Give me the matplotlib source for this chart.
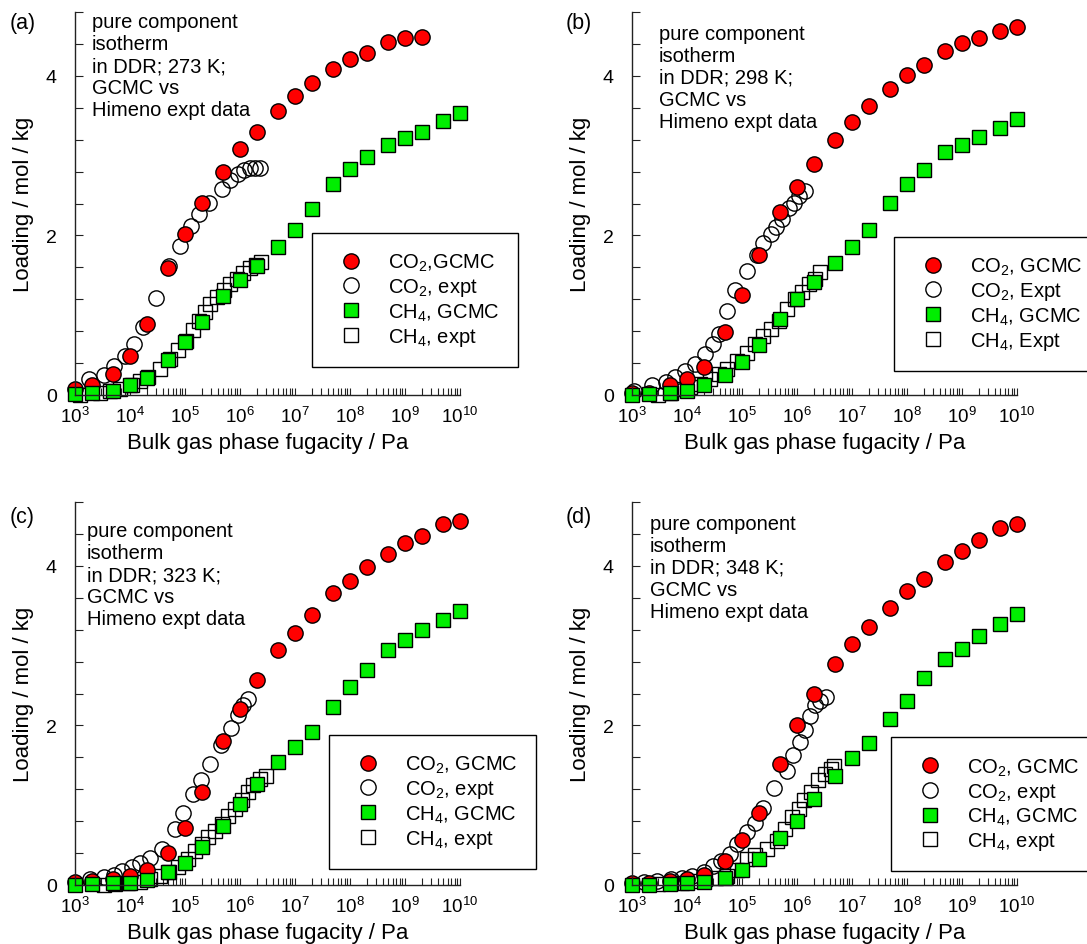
import numpy as np
import matplotlib
matplotlib.use("Agg")
import matplotlib.pyplot as plt
from matplotlib.ticker import MultipleLocator, FixedLocator, NullFormatter, LogFormatterSciNotation

plt.rcParams['font.family'] = ['Liberation Sans', 'DejaVu Sans']
plt.rcParams['mathtext.fontset'] = 'custom'
plt.rcParams['mathtext.rm'] = 'Liberation Sans'
plt.rcParams['mathtext.it'] = 'Liberation Sans:italic'
plt.rcParams['mathtext.default'] = 'regular'

# GCMC bulk fugacities / Pa
p_gcmc = [1e3, 2e3, 5e3, 1e4, 2e4, 5e4, 1e5, 2e5, 5e5, 1e6, 2e6,
          5e6, 1e7, 2e7, 5e7, 1e8, 2e8, 5e8, 1e9, 2e9, 5e9, 1e10]
p_gcmc_co2_a = [1e3, 2e3, 5e3, 1e4, 2e4, 5e4, 1e5, 2e5, 5e5, 1e6, 2e6,
                5e6, 1e7, 2e7, 5e7, 1e8, 2e8, 5e8, 1e9, 2e9]

# (a) 273 K
co2_gcmc_a = [0.08, 0.13, 0.26, 0.49, 0.89, 1.59, 2.02, 2.41, 2.80, 3.08, 3.30,
              3.56, 3.75, 3.91, 4.09, 4.21, 4.29, 4.43, 4.47, 4.49]
ch4_gcmc_a = [0.01, 0.02, 0.05, 0.12, 0.21, 0.44, 0.66, 0.91, 1.24, 1.44, 1.62,
              1.86, 2.07, 2.33, 2.64, 2.83, 2.98, 3.13, 3.22, 3.30, 3.43, 3.54]
co2_expt_logp_a = [3.26, 3.52, 3.70, 3.91, 4.07, 4.24, 4.48, 4.70, 4.91, 5.10,
                   5.26, 5.44, 5.67, 5.82, 5.97, 6.08, 6.18, 6.27, 6.36]
co2_expt_a = [0.20, 0.25, 0.36, 0.49, 0.64, 0.85, 1.22, 1.62, 1.87, 2.12,
              2.27, 2.41, 2.58, 2.69, 2.77, 2.82, 2.84, 2.84, 2.84]
ch4_expt_logp_a = [3.09, 3.45, 3.64, 3.82, 4.03, 4.18, 4.33, 4.55, 4.73, 4.88, 5.02, 5.15,
                   5.26, 5.36, 5.45, 5.58, 5.70, 5.82, 5.94, 6.06, 6.18, 6.29, 6.39]
ch4_expt_a = [0.00, 0.03, 0.05, 0.08, 0.13, 0.17, 0.22, 0.32, 0.45, 0.57, 0.68, 0.81,
              0.93, 1.04, 1.14, 1.23, 1.31, 1.39, 1.46, 1.53, 1.59, 1.63, 1.67]

# (b) 298 K
co2_gcmc_b = [0.03, 0.03, 0.12, 0.20, 0.35, 0.79, 1.25, 1.75, 2.29, 2.61, 2.89,
              3.20, 3.42, 3.62, 3.83, 4.01, 4.14, 4.31, 4.41, 4.47, 4.56, 4.61]
ch4_gcmc_b = [0.00, 0.01, 0.03, 0.05, 0.12, 0.25, 0.41, 0.63, 0.95, 1.20, 1.42,
              1.66, 1.85, 2.07, 2.41, 2.64, 2.82, 3.04, 3.13, 3.23, 3.35, 3.46]
co2_expt_logp_b = [3.03, 3.36, 3.61, 3.79, 3.97, 4.15, 4.33, 4.48, 4.58, 4.73, 4.88,
                   5.09, 5.27, 5.39, 5.52, 5.61, 5.73, 5.85, 5.94, 6.04, 6.15]
co2_expt_b = [0.05, 0.13, 0.16, 0.22, 0.30, 0.39, 0.51, 0.64, 0.76, 1.05, 1.31,
              1.56, 1.75, 1.91, 2.02, 2.10, 2.21, 2.34, 2.41, 2.50, 2.56]
ch4_expt_logp_b = [3.48, 3.70, 3.88, 4.06, 4.24, 4.42, 4.58, 4.73, 4.91, 5.09,
                   5.24, 5.39, 5.52, 5.67, 5.82, 5.97, 6.09, 6.21, 6.32, 6.42]
ch4_expt_b = [0.00, 0.03, 0.07, 0.10, 0.14, 0.20, 0.26, 0.33, 0.43, 0.53,
              0.64, 0.74, 0.83, 0.93, 1.08, 1.20, 1.29, 1.39, 1.46, 1.54]

# (c) 323 K
co2_gcmc_c = [0.04, 0.05, 0.07, 0.11, 0.19, 0.40, 0.72, 1.17, 1.81, 2.21, 2.57,
              2.94, 3.16, 3.38, 3.66, 3.81, 3.99, 4.15, 4.29, 4.38, 4.52, 4.56]
ch4_gcmc_c = [0.00, 0.01, 0.02, 0.03, 0.06, 0.16, 0.28, 0.47, 0.74, 1.01, 1.27,
              1.54, 1.73, 1.92, 2.23, 2.48, 2.70, 2.94, 3.07, 3.19, 3.32, 3.43]
co2_expt_logp_c = [3.27, 3.52, 3.71, 3.85, 4.03, 4.19, 4.36, 4.58, 4.82,
                   4.97, 5.15, 5.29, 5.45, 5.65, 5.83, 5.97, 6.06, 6.15]
co2_expt_c = [0.08, 0.10, 0.13, 0.18, 0.23, 0.28, 0.34, 0.45, 0.70,
              0.90, 1.14, 1.31, 1.52, 1.76, 1.97, 2.13, 2.25, 2.33]
ch4_expt_logp_c = [3.52, 3.73, 3.97, 4.18, 4.36, 4.55, 4.70, 4.88, 5.06, 5.18, 5.30,
                   5.42, 5.55, 5.67, 5.79, 5.91, 6.03, 6.15, 6.24, 6.36, 6.48]
ch4_expt_c = [0.00, 0.01, 0.03, 0.04, 0.07, 0.11, 0.16, 0.22, 0.32, 0.43, 0.51,
              0.60, 0.68, 0.76, 0.86, 0.95, 1.06, 1.16, 1.25, 1.33, 1.37]

# (d) 348 K
co2_gcmc_d = [0.02, 0.02, 0.05, 0.07, 0.13, 0.30, 0.57, 0.90, 1.52, 2.01, 2.40,
              2.77, 3.02, 3.23, 3.47, 3.69, 3.84, 4.05, 4.18, 4.32, 4.47, 4.53]
ch4_gcmc_d = [0.00, 0.00, 0.01, 0.02, 0.04, 0.09, 0.19, 0.32, 0.59, 0.80, 1.08,
              1.36, 1.59, 1.78, 2.08, 2.30, 2.59, 2.83, 2.96, 3.12, 3.27, 3.40]
co2_expt_logp_d = [3.21, 3.45, 3.70, 3.91, 4.09, 4.30, 4.48, 4.61, 4.79, 4.91, 5.09,
                   5.24, 5.39, 5.58, 5.82, 5.93, 6.05, 6.15, 6.24, 6.33, 6.42, 6.52]
co2_expt_d = [0.04, 0.05, 0.07, 0.09, 0.11, 0.16, 0.24, 0.30, 0.39, 0.52, 0.66,
              0.78, 0.97, 1.21, 1.43, 1.63, 1.79, 1.94, 2.12, 2.25, 2.31, 2.35]
ch4_expt_logp_d = [3.48, 3.70, 3.91, 4.12, 4.33, 4.52, 4.73, 4.91, 5.09, 5.24, 5.45,
                   5.64, 5.79, 5.91, 6.03, 6.13, 6.25, 6.38, 6.50, 6.61, 6.67]
ch4_expt_d = [0.01, 0.02, 0.03, 0.05, 0.07, 0.09, 0.11, 0.19, 0.32, 0.38, 0.45,
              0.55, 0.70, 0.85, 0.95, 1.06, 1.16, 1.31, 1.39, 1.46, 1.49]

temps = ['273 K', '298 K', '323 K', '348 K']
tags = ['(a)', '(b)', '(c)', '(d)']
legend_labels = [
    ['CO$_2$,GCMC', 'CO$_2$, expt', 'CH$_4$, GCMC', 'CH$_4$, expt'],
    ['CO$_2$, GCMC', 'CO$_2$, Expt', 'CH$_4$, GCMC', 'CH$_4$, Expt'],
    ['CO$_2$, GCMC', 'CO$_2$, expt', 'CH$_4$, GCMC', 'CH$_4$, expt'],
    ['CO$_2$, GCMC', 'CO$_2$, expt', 'CH$_4$, GCMC', 'CH$_4$, expt'],
]
decades = [1e3, 1e4, 1e5, 1e6, 1e7, 1e8, 1e9, 1e10]

panels = [
    (p_gcmc_co2_a, co2_gcmc_a, ch4_gcmc_a, co2_expt_logp_a, co2_expt_a, ch4_expt_logp_a, ch4_expt_a),
    (p_gcmc, co2_gcmc_b, ch4_gcmc_b, co2_expt_logp_b, co2_expt_b, ch4_expt_logp_b, ch4_expt_b),
    (p_gcmc, co2_gcmc_c, ch4_gcmc_c, co2_expt_logp_c, co2_expt_c, ch4_expt_logp_c, ch4_expt_c),
    (p_gcmc, co2_gcmc_d, ch4_gcmc_d, co2_expt_logp_d, co2_expt_d, ch4_expt_logp_d, ch4_expt_d),
]

W, H = 1087, 945
fig = plt.figure(figsize=(W / 100, H / 100), dpi=100)

# axes boxes in pixels: left, top, right, bottom
boxes = [(75, 13, 460, 396), (632, 13, 1017, 396), (75, 503, 460, 886), (632, 503, 1017, 886)]
tag_pos = [(10, 24), (566, 24), (10, 517), (566, 517)]
note_pos = [(0.044, 1.0), (0.07, 0.969), (0.031, 0.95), (0.047, 0.969)]
leg_pos = [(0.616, 0.423), (0.681, 0.413), (0.66, 0.392), (0.673, 0.386)]

for i, (pg, co2g, ch4g, co2xl, co2e, ch4xl, ch4e) in enumerate(panels):
    l, t, r, b = boxes[i]
    ax = fig.add_axes([l / W, 1 - b / H, (r - l) / W, (b - t) / H])

    h_co2e, = ax.plot(10 ** np.array(co2xl), co2e, 'o', mfc='none', mec='black',
                      ms=11, mew=1.0, clip_on=False)
    h_ch4e, = ax.plot(10 ** np.array(ch4xl), ch4e, 's', mfc='none', mec='black',
                      ms=10, mew=1.0, clip_on=False)
    h_co2g, = ax.plot(pg, co2g, 'o', mfc='#ff0000', mec='black', ms=11, mew=1.0,
                      clip_on=False)
    h_ch4g, = ax.plot(p_gcmc, ch4g, 's', mfc='#00ee00', mec='black', ms=10, mew=1.0,
                      clip_on=False)

    ax.set_xscale('log')
    ax.set_xlim(1e3, 1e10)
    ax.set_ylim(0, 4.8)
    ax.spines['top'].set_visible(False)
    ax.spines['right'].set_visible(False)
    for s in ['left', 'bottom']:
        ax.spines[s].set_linewidth(1.0)
        ax.spines[s].set_color('#222222')

    ax.xaxis.set_major_locator(FixedLocator(decades))
    ax.xaxis.set_major_formatter(LogFormatterSciNotation())
    ax.xaxis.set_minor_locator(FixedLocator([m * d for d in decades[:-1] for m in range(2, 10)]))
    ax.xaxis.set_minor_formatter(NullFormatter())
    ax.yaxis.set_major_locator(MultipleLocator(2))
    ax.yaxis.set_minor_locator(MultipleLocator(0.4))
    ax.tick_params(axis='x', which='both', direction='in', length=5, width=0.8,
                   pad=8, labelsize=13.5, color='#222222')
    ax.tick_params(axis='y', which='both', direction='in', length=6, width=0.8,
                   pad=13, labelsize=14, color='#222222')

    ax.set_xlabel('Bulk gas phase fugacity / Pa', fontsize=16)
    ax.set_ylabel('Loading / mol / kg', fontsize=16)
    ax.xaxis.set_label_coords(0.5, -0.096)
    ax.yaxis.set_label_coords(-0.106, 0.5)

    ax.text(note_pos[i][0], note_pos[i][1],
            'pure component\nisotherm\nin DDR; ' + temps[i] + ';\nGCMC vs\nHimeno expt data',
            transform=ax.transAxes, ha='left', va='top', fontsize=14.5, linespacing=1.2)

    leg = ax.legend([h_co2g, h_co2e, h_ch4g, h_ch4e], legend_labels[i],
                    loc='upper left', bbox_to_anchor=leg_pos[i], borderaxespad=0,
                    fancybox=False, edgecolor='black', framealpha=1, fontsize=14.5,
                    borderpad=0.95, labelspacing=0.15, handletextpad=0.8,
                    handlelength=2.0, markerscale=1.0)
    leg.get_frame().set_linewidth(1.0)

    fig.text(tag_pos[i][0] / W, 1 - tag_pos[i][1] / H, tags[i], ha='left', va='center',
             fontsize=15.5)

fig.savefig('out.png', dpi=100)
